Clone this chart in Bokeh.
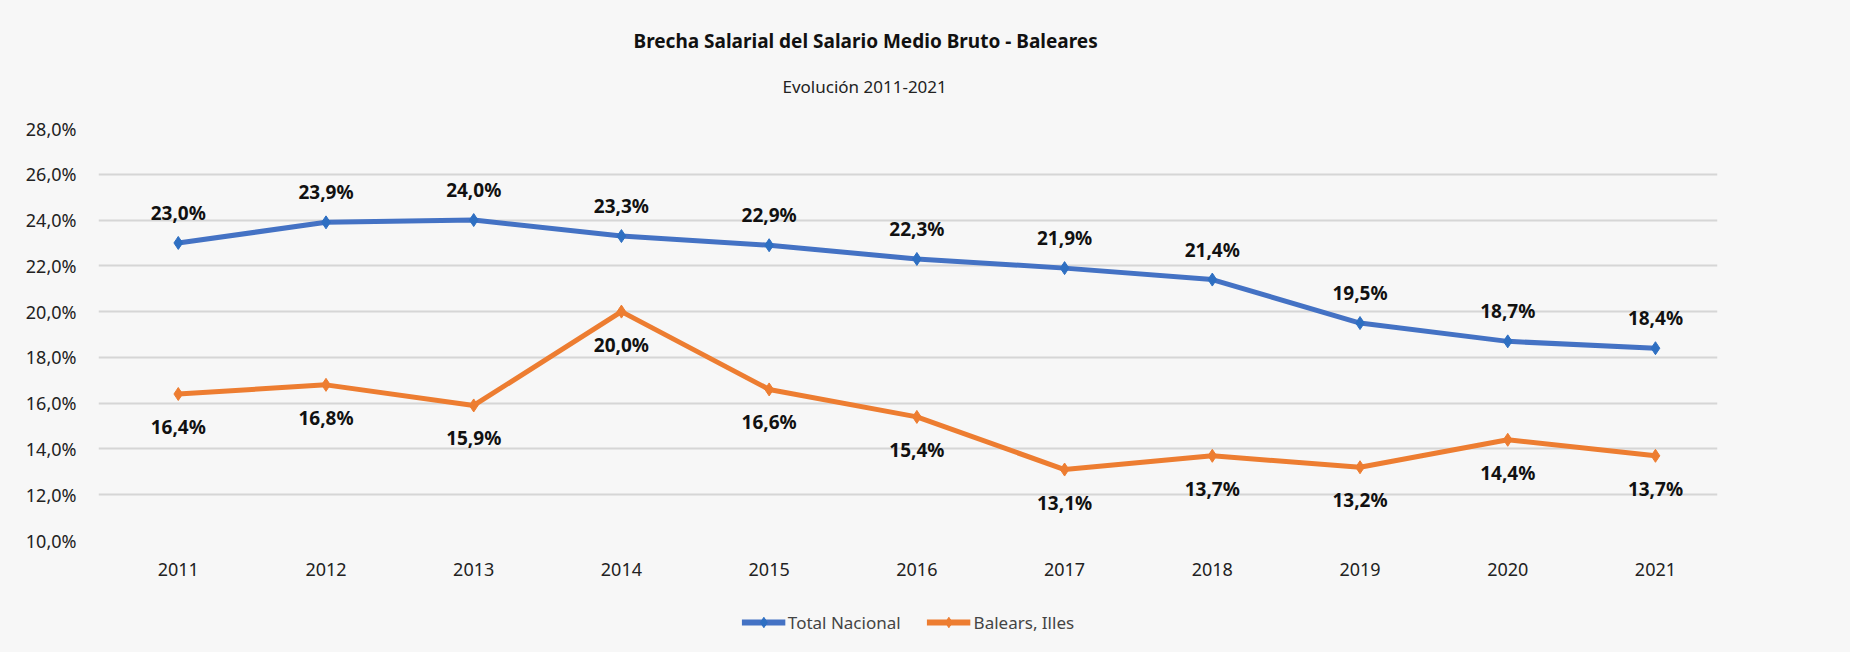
from bokeh.plotting import figure
from bokeh.layouts import column
from bokeh.models import (ColumnDataSource, LabelSet, Legend, LegendItem, Range1d,
                          FixedTicker, CustomJSTickFormatter, Title)
from bokeh.core.properties import value
from bokeh.embed import file_html
from bokeh.resources import INLINE

years = [2011, 2012, 2013, 2014, 2015, 2016, 2017, 2018, 2019, 2020, 2021]
total_nacional = [23.0, 23.9, 24.0, 23.3, 22.9, 22.3, 21.9, 21.4, 19.5, 18.7, 18.4]
baleares = [16.4, 16.8, 15.9, 20.0, 16.6, 15.4, 13.1, 13.7, 13.2, 14.4, 13.7]
y_ticks = [10, 12, 14, 16, 18, 20, 22, 24, 26, 28]
series_names = ["Total Nacional", "Balears, Illes"]

BLUE = "#4472C4"
BLUE_M = "#2E6FC2"
ORANGE = "#ED7D31"
BG = "#f7f7f7"
FONT = "Noto Sans"

def fmt(v):
    return ("%.1f" % v).replace(".", ",") + "%"

src_t = ColumnDataSource(dict(x=years, y=total_nacional, lab=[fmt(v) for v in total_nacional]))
src_b = ColumnDataSource(dict(x=years, y=baleares, lab=[fmt(v) for v in baleares]))

p = figure(width=1850, height=584, output_backend="svg", toolbar_location=None,
           x_range=Range1d(2010.46, 2021.42), y_range=Range1d(10, 28),
           min_border_left=98, min_border_right=133, min_border_top=128, min_border_bottom=44)
p.background_fill_color = BG
p.border_fill_color = BG
p.outline_line_color = None

p.xgrid.grid_line_color = None
p.ygrid.grid_line_color = "#d6d6d6"
p.ygrid.grid_line_width = 2

p.yaxis.ticker = FixedTicker(ticks=y_ticks)
p.yaxis.formatter = CustomJSTickFormatter(code="return tick.toFixed(1).replace('.', ',') + '%';")
p.xaxis.ticker = FixedTicker(ticks=years)
p.xaxis.formatter = CustomJSTickFormatter(code="return tick.toFixed(0);")
for ax in (p.xaxis, p.yaxis):
    ax.axis_line_color = None
    ax.major_tick_line_color = None
    ax.minor_tick_line_color = None
    ax.major_label_text_font = FONT
    ax.major_label_text_font_size = "18px"
    ax.major_label_text_color = "#222222"
p.yaxis.major_label_standoff = 16
p.xaxis.major_label_standoff = 16

p.line("x", "y", source=src_t, line_color=BLUE, line_width=5)
p.scatter("x", "y", source=src_t, marker="diamond", size=13, fill_color=BLUE_M, line_color=BLUE_M)
p.line("x", "y", source=src_b, line_color=ORANGE, line_width=5)
p.scatter("x", "y", source=src_b, marker="diamond", size=13, fill_color=ORANGE, line_color=ORANGE)

lab1 = LabelSet(x="x", y="y", text="lab", source=src_t, y_offset=30, text_align="center",
                text_baseline="middle", text_font=value(FONT), text_font_style="bold",
                text_font_size="19px", text_color="#111111")
lab2 = LabelSet(x="x", y="y", text="lab", source=src_b, y_offset=-33, text_align="center",
                text_baseline="middle", text_font=value(FONT), text_font_style="bold",
                text_font_size="19px", text_color="#111111")
p.add_layout(lab1)
p.add_layout(lab2)

p.add_layout(Title(text="Evolución 2011-2021", align="left", offset=684, standoff=62,
                   text_font=FONT, text_font_size="17px", text_font_style="normal",
                   text_color="#222222"), "above")
p.add_layout(Title(text="Brecha Salarial del Salario Medio Bruto - Baleares", align="left",
                   offset=535, standoff=-25,
                   text_font=FONT, text_font_size="19px", text_font_style="bold",
                   text_color="#111111"), "above")

# legend strip below the chart (its renderers share the data but lie outside its view)
lg = figure(width=1850, height=68, output_backend="svg", toolbar_location=None,
            x_range=Range1d(0, 1), y_range=Range1d(0, 1),
            x_axis_location=None, y_axis_location=None,
            min_border_left=98, min_border_right=133, min_border_top=8, min_border_bottom=0)
lg.background_fill_color = BG
lg.border_fill_color = BG
lg.outline_line_color = None
lg.grid.grid_line_color = None
l1 = lg.line("x", "y", source=src_t, line_color=BLUE, line_width=6)
s1 = lg.scatter("x", "y", source=src_t, marker="diamond", size=13,
                fill_color=BLUE_M, line_color=BLUE_M)
l2 = lg.line("x", "y", source=src_b, line_color=ORANGE, line_width=6)
s2 = lg.scatter("x", "y", source=src_b, marker="diamond", size=13,
                fill_color=ORANGE, line_color=ORANGE)
legend = Legend(items=[LegendItem(label=series_names[0], renderers=[l1, s1]),
                       LegendItem(label=series_names[1], renderers=[l2, s2])],
                orientation="horizontal", location="center",
                glyph_width=44, glyph_height=26, label_text_font=FONT,
                label_text_font_size="17px", label_standoff=3, spacing=26,
                padding=0, margin=0,
                background_fill_alpha=0, border_line_color=None)
lg.add_layout(legend)

layout = column(p, lg, spacing=0, styles={"background-color": BG})
open("out.html", "w").write(file_html(layout, INLINE))
